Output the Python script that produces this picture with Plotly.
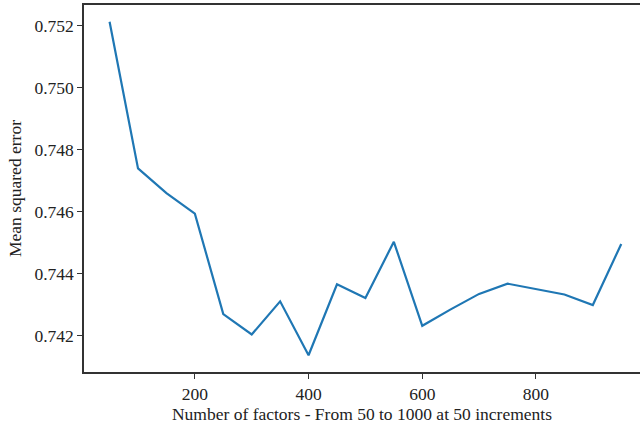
import plotly.graph_objects as go

# Number of latent factors tested and the resulting mean squared error
factors = [50, 100, 150, 200, 250, 300, 350, 400, 450, 500,
           550, 600, 650, 700, 750, 800, 850, 900, 950]
mse = [0.75213, 0.74740, 0.74660, 0.74594, 0.74270, 0.74204, 0.74311,
       0.74137, 0.74366, 0.74322, 0.74503, 0.74232, 0.74285, 0.74335,
       0.74368, 0.74351, 0.74333, 0.74299, 0.74496]

y_ticks = [0.742, 0.744, 0.746, 0.748, 0.750, 0.752]
x_ticks = [200, 400, 600, 800]

font = dict(family="Liberation Serif, Times New Roman, serif", size=17.5, color="#222222")

fig = go.Figure(
    go.Scatter(
        x=factors, y=mse, mode="lines",
        line=dict(color="#1f77b4", width=2.2),
    )
)

fig.update_layout(
    width=640, height=425,
    margin=dict(l=84, r=0, t=5, b=53),
    paper_bgcolor="white", plot_bgcolor="white",
    showlegend=False,
    font=font,
)

fig.update_xaxes(
    range=[5, 983],
    tickvals=x_ticks, ticktext=[str(v) for v in x_ticks],
    showgrid=False, zeroline=False,
    showline=True, linecolor="#333333", linewidth=1.5, mirror=True,
    ticks="outside", ticklen=5, tickwidth=1.2, tickcolor="#333333",
    title=dict(text="Number of factors - From 50 to 1000 at 50 increments",
               font=font, standoff=3),
)
fig.update_yaxes(
    range=[0.74083, 0.75267],
    tickvals=y_ticks, ticktext=[f"{v:.3f}" for v in y_ticks],
    showgrid=False, zeroline=False,
    showline=True, linecolor="#333333", linewidth=1.5, mirror=False,
    ticks="outside", ticklen=5, tickwidth=1.2, tickcolor="#333333",
    title=dict(text="Mean squared error", font=font, standoff=8),
)

fig.write_html("out.html")
